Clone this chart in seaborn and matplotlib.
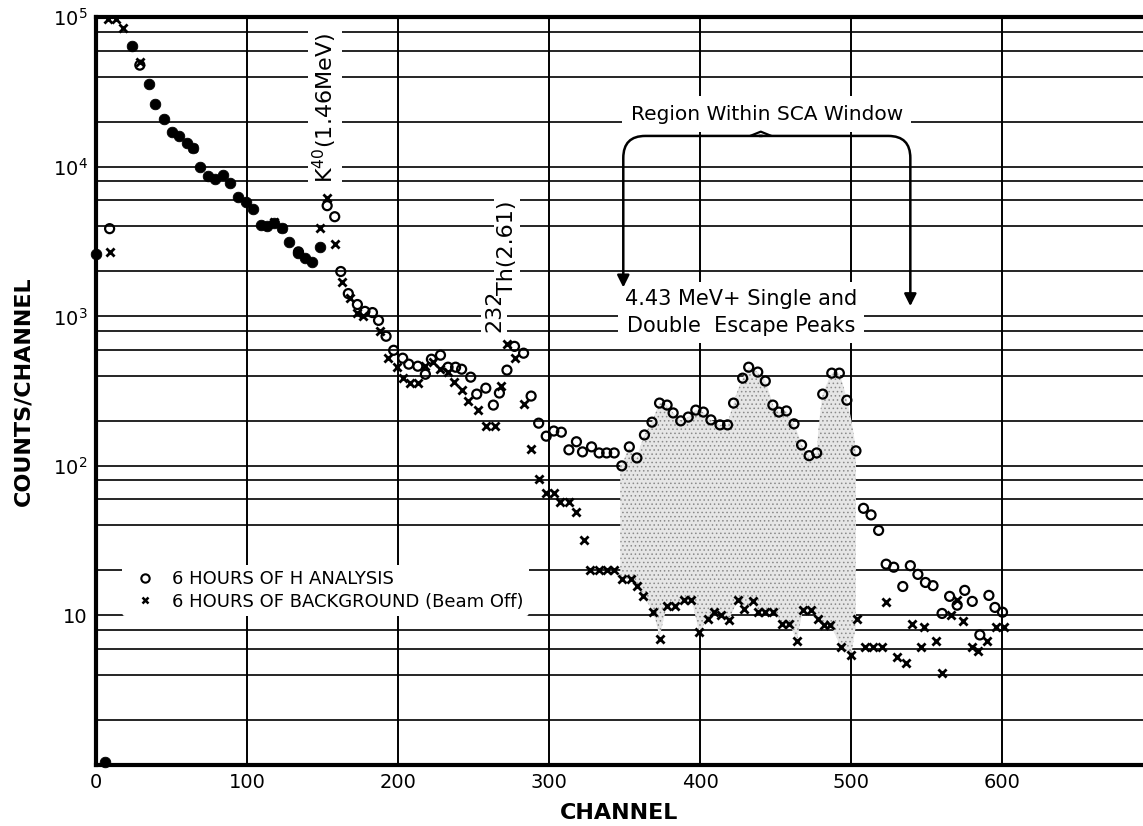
import numpy as np
import matplotlib
matplotlib.use("Agg")
import matplotlib.pyplot as plt
from matplotlib.lines import Line2D
import seaborn as sns

# points where both runs coincide (drawn as solid dots)
both_ch = [0, 6, 24, 35, 39, 45, 50, 55, 60, 64, 69, 74, 79, 84, 89, 94, 99, 104,
           109, 113, 118, 123, 128, 134, 138, 143, 148]
both_val = [2600, 1.05, 64000, 35800, 26300, 20900, 17100, 16100, 14500, 13400, 10000,
            8700, 8300, 8800, 7800, 6300, 5800, 5250, 4100, 4050, 4200, 3900, 3150,
            2650, 2450, 2300, 2900]

# 6 hours of H analysis (open circles)
h_ch = [9, 29, 134, 153, 158, 162, 167, 173, 178, 183, 187, 192, 197, 203, 207, 213,
        218, 222, 228, 233, 238, 242, 248, 252, 258, 263, 267, 272, 277, 283, 288, 293,
        298, 303, 308, 313, 318, 322, 328, 333, 338, 343, 348, 353, 358, 363, 368, 373,
        378, 382, 387, 392, 397, 402, 407, 413, 418, 422, 428, 432, 438, 443, 448, 452,
        457, 462, 467, 472, 477, 481, 487, 492, 497, 503, 508, 513, 518, 523, 528, 534,
        539, 544, 549, 554, 560, 565, 570, 575, 580, 585, 591, 595, 600]
h_val = [3860, 47900, 2700, 5500, 4640, 1995, 1420, 1200, 1080, 1060, 940, 736, 593,
         525, 479, 464, 410, 517, 550, 457, 457, 443, 392, 302, 331, 255, 307, 437, 630,
         567, 293, 193, 158, 171, 168, 128, 145, 124, 134, 122, 122, 122, 100, 134, 113,
         161, 196, 263, 255, 226, 200, 212, 236, 229, 203, 188, 188, 263, 386, 457, 424,
         369, 255, 229, 233, 191, 138, 117, 122, 302, 417, 417, 275, 126, 52, 47, 37,
         22, 21, 15.6, 21.5, 18.8, 16.6, 15.8, 10.3, 13.4, 11.7, 14.7, 12.4, 7.4, 13.6,
         11.3, 10.5]

# 6 hours of background, beam off (crosses)
bg_ch = [8, 13, 18, 9, 29, 64, 118, 123, 148, 153, 158, 163, 168, 173, 177, 188, 193,
         199, 203, 208, 213, 218, 223, 228, 233, 237, 242, 246, 253, 258, 264, 268, 272,
         277, 283, 288, 293, 298, 303, 307, 313, 318, 323, 327, 333, 338, 343, 348, 354,
         358, 362, 369, 373, 378, 383, 389, 394, 399, 405, 409, 414, 419, 425, 429, 435,
         438, 443, 448, 454, 459, 464, 468, 473, 478, 482, 486, 493, 500, 504, 509, 514,
         520, 523, 530, 536, 540, 546, 548, 556, 560, 566, 570, 574, 580, 584, 590, 596,
         601]
bg_val = [98000, 98000, 85000, 2710, 50000, 13400, 4300, 3900, 3920, 6210, 3070, 1690,
          1330, 1060, 1000, 795, 525, 457, 386, 357, 357, 464, 493, 443, 424, 363, 321,
          271, 236, 185, 185, 341, 650, 525, 259, 130, 82, 66, 66, 57, 57, 49, 32, 20,
          20, 20, 20, 17.6, 17.6, 15.8, 13.4, 10.5, 7.0, 11.5, 11.5, 12.6, 12.6, 7.7,
          9.4, 10.6, 10, 9.3, 12.6, 11, 12.4, 10.5, 10.5, 10.5, 8.7, 8.7, 6.7, 10.8, 10.8,
          9.5, 8.6, 8.6, 6.1, 5.4, 9.5, 6.1, 6.1, 6.1, 12.2, 5.3, 4.8, 8.7, 6.1, 8.4, 6.7,
          4.1, 10.1, 12.6, 9.1, 6.1, 5.8, 6.7, 8.3, 8.3]

y_ticks = [1, 10, 100, 1000, 10000, 100000]
y_tick_labels = ["", "10", "$10^2$", "$10^3$", "$10^4$", "$10^5$"]
x_ticks = [0, 100, 200, 300, 400, 500, 600]
sca_window = (347, 503)

sns.set_style("white")
plt.rcParams["font.family"] = ["DejaVu Sans"]
plt.rcParams["text.color"] = "black"
plt.rcParams["axes.labelcolor"] = "black"
plt.rcParams["xtick.color"] = "black"
plt.rcParams["ytick.color"] = "black"
plt.rcParams["hatch.color"] = "#8a8a8a"
plt.rcParams["hatch.linewidth"] = 0.6

fig = plt.figure(figsize=(11.43, 8.26), dpi=100)
ax = fig.add_axes([0.084, 0.074, 0.916, 0.905])
ax.set_yscale("log")
ax.set_xlim(0, 693)
ax.set_ylim(1, 1e5)

# grid: channels every 100, counts at 1,2,4,6,8 per decade
for xv in range(100, 700, 100):
    ax.axvline(xv, color="black", lw=1.4, zorder=0)
for dec in [1, 10, 100, 1000, 10000]:
    for m in [1, 2, 4, 6, 8]:
        ax.axhline(dec * m, color="black", lw=1.2, zorder=0)

# stippled region inside the SCA window, between the two runs
hs = np.argsort(h_ch)
bs = np.argsort(bg_ch)
xx = np.linspace(sca_window[0], sca_window[1], 300)
top = np.interp(xx, np.array(h_ch)[hs], np.array(h_val)[hs])
bot = np.interp(xx, np.array(bg_ch)[bs], np.array(bg_val)[bs])
ax.fill_between(xx, bot, top, facecolor="#e6e6e6", edgecolor="#8a8a8a",
                hatch="....", linewidth=0, zorder=1)

sns.scatterplot(x=h_ch, y=h_val, marker="o", s=42, facecolors="none",
                edgecolor="black", linewidth=1.6, ax=ax, zorder=3)
sns.scatterplot(x=bg_ch, y=bg_val, marker="x", s=34, color="black",
                linewidth=2.0, ax=ax, zorder=3)
sns.scatterplot(x=both_ch, y=both_val, marker="o", s=58, color="black",
                edgecolor="black", ax=ax, zorder=3, clip_on=False)

box = dict(facecolor="white", edgecolor="none", pad=2)
ax.text(151.5, 7800, r"K$^{40}$(1.46MeV)", rotation=90, ha="center", va="bottom",
        fontsize=16, bbox=box, zorder=4)
ax.text(263.5, 790, "232", rotation=90, ha="center", va="bottom", fontsize=16,
        bbox=box, zorder=4)
ax.text(272, 1380, "Th(2.61)", rotation=90, ha="center", va="bottom", fontsize=16,
        bbox=box, zorder=4)
ax.text(444, 22500, "Region Within SCA Window", ha="center", va="center",
        fontsize=14.5, bbox=dict(facecolor="white", edgecolor="none", pad=6), zorder=4)
ax.text(427, 1060, "4.43 MeV+ Single and\nDouble  Escape Peaks", ha="center",
        va="center", fontsize=15, linespacing=1.45,
        bbox=dict(facecolor="white", edgecolor="none", pad=5), zorder=4)

arrow = dict(arrowstyle="-|>", color="black", lw=1.8, mutation_scale=18,
             shrinkA=0, shrinkB=0)
ax.annotate("", xy=(349, 1560), xytext=(441, 16100),
            arrowprops=dict(connectionstyle="angle,angleA=0,angleB=90,rad=22", **arrow),
            zorder=5)
ax.annotate("", xy=(539, 1170), xytext=(439, 16100),
            arrowprops=dict(connectionstyle="angle,angleA=0,angleB=90,rad=22", **arrow),
            zorder=5)
ax.plot([433, 440, 447], [16100, 17200, 16100], color="black", lw=1.6, zorder=5)

handles = [
    Line2D([], [], marker="o", ls="none", mfc="none", mec="black", mew=1.5, ms=6),
    Line2D([], [], marker="x", ls="none", color="black", mew=1.8, ms=5),
]
leg = ax.legend(handles, ["6 HOURS OF H ANALYSIS", "6 HOURS OF BACKGROUND (Beam Off)"],
                loc="upper left", bbox_to_anchor=(0.016, 0.28), frameon=True,
                facecolor="white", edgecolor="none", framealpha=1, fontsize=13,
                handletextpad=0.5, borderpad=0.3, labelspacing=0.25)
leg.set_zorder(6)

ax.set_yticks(y_ticks)
ax.set_yticklabels(y_tick_labels)
ax.yaxis.set_minor_locator(matplotlib.ticker.NullLocator())
ax.set_xticks(x_ticks)
ax.tick_params(length=0, labelsize=14, pad=6)
ax.set_xlabel("CHANNEL", fontsize=16, fontweight="bold", labelpad=8)
ax.set_ylabel("COUNTS/CHANNEL", fontsize=16, fontweight="bold", labelpad=14)

for side in ["left", "bottom", "top"]:
    ax.spines[side].set_linewidth(3)
    ax.spines[side].set_color("black")
ax.spines["right"].set_visible(False)

fig.savefig("out.png", dpi=100)
